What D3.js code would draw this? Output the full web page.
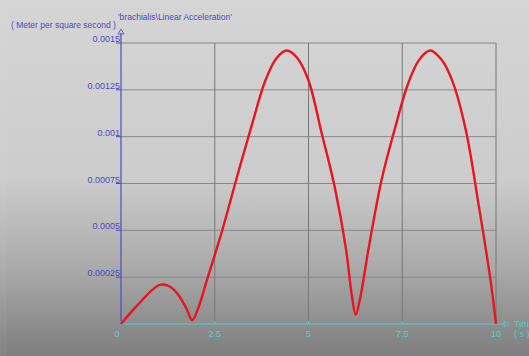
<!DOCTYPE html>
<html>
<head>
<meta charset="utf-8">
<script src="https://cdn.jsdelivr.net/npm/d3@7"></script>
<style>
  body { margin: 0; overflow: hidden; }
  svg { display: block; font-family: "Liberation Sans", Arial, sans-serif; }
</style>
</head>
<body>
<div id="chart"></div>
<script>
// time (s) and linear acceleration magnitude
var times = [0, 0.3, 0.6, 0.85, 1.06, 1.3, 1.55, 1.75, 1.9, 2.05, 2.3, 2.7, 3.1, 3.5, 3.85, 4.15, 4.42,
  4.7, 5.0, 5.35, 5.7, 6.0, 6.15, 6.26, 6.38, 6.6, 6.95, 7.3, 7.65, 7.95, 8.24, 8.55, 8.85, 9.2, 9.55, 9.85, 10];
var accel = [0, 0.00007, 0.000135, 0.000185, 0.00021, 0.0002, 0.00015, 0.00008, 0.00002, 0.00008, 0.00024, 0.0005, 0.00079, 0.00107, 0.0013, 0.00142, 0.00146,
  0.00142, 0.0013, 0.00102, 0.00073, 0.0004, 0.00016, 0.00005, 0.00014, 0.0004, 0.00077, 0.00104, 0.00128, 0.00141, 0.00146, 0.00141, 0.00129, 0.00103, 0.00062, 0.00024, 0];
var xTicks = [0, 2.5, 5, 7.5, 10];
var xTickLabels = ["0", "2.5", "5", "7.5", "10"];
var yTicks = [0.00025, 0.0005, 0.00075, 0.001, 0.00125, 0.0015];
var yTickLabels = ["0.00025", "0.0005", "0.00075", "0.001", "0.00125", "0.0015"];

var data = times.map((t, i) => ({ x: t, y: accel[i] }));

var W = 529, H = 356;
var margin = { top: 43, right: 33, bottom: 32, left: 121 };
var width = W - margin.left - margin.right;
var height = H - margin.top - margin.bottom;

var blue = "#4a4ac8";
var cyan = "#55cccc";

var svg = d3.select("#chart").append("svg")
  .attr("width", W)
  .attr("height", H);

// gray background that darkens toward the bottom
var grad = svg.append("defs").append("linearGradient")
  .attr("id", "bg").attr("x1", 0).attr("y1", 0).attr("x2", 0).attr("y2", 1);
grad.append("stop").attr("offset", "0%").attr("stop-color", "#d5d5d5");
grad.append("stop").attr("offset", "50%").attr("stop-color", "#cccccc");
grad.append("stop").attr("offset", "75%").attr("stop-color", "#aaaaaa");
grad.append("stop").attr("offset", "100%").attr("stop-color", "#7e7e7e");
svg.append("rect").attr("width", W).attr("height", H).attr("fill", "url(#bg)");
svg.append("rect").attr("x", 0).attr("y", 0).attr("width", 7).attr("height", H)
  .attr("fill", "#ffffff").attr("opacity", 0.04);

var xScale = d3.scaleLinear().domain([0, 10]).range([0, width]);
var yScale = d3.scaleLinear().domain([0, 0.0015]).range([height, 0]);

var g = svg.append("g")
  .attr("transform", "translate(" + margin.left + "," + margin.top + ")");

// grid
g.append("g").selectAll("line").data(yTicks).join("line")
  .attr("x1", 0).attr("x2", width)
  .attr("y1", d => yScale(d)).attr("y2", d => yScale(d))
  .attr("stroke", "#8a8a8a").attr("stroke-width", 1);
g.append("g").selectAll("line").data(xTicks.slice(1)).join("line")
  .attr("x1", d => xScale(d)).attr("x2", d => xScale(d))
  .attr("y1", 0).attr("y2", height)
  .attr("stroke", "#777777").attr("stroke-width", 1);

// y axis
g.append("line").attr("x1", 0).attr("x2", 0).attr("y1", -10).attr("y2", height)
  .attr("stroke", blue).attr("stroke-width", 1.2);
g.append("path").attr("d", "M-3,-9L0,-14L3,-9Z")
  .attr("fill", "none").attr("stroke", blue).attr("stroke-width", 0.8);
g.append("g").selectAll("line").data(yTicks).join("line")
  .attr("x1", -5).attr("x2", 0)
  .attr("y1", d => yScale(d)).attr("y2", d => yScale(d))
  .attr("stroke", blue);
g.append("g").selectAll("text").data(yTicks).join("text")
  .attr("x", -1).attr("y", d => yScale(d) - 1)
  .attr("text-anchor", "end")
  .attr("font-size", 9).attr("fill", blue)
  .text((d, i) => yTickLabels[i]);

// x axis
g.append("line").attr("x1", 0).attr("x2", width + 10).attr("y1", height).attr("y2", height)
  .attr("stroke", cyan).attr("stroke-width", 1.2);
g.append("path").attr("d", "M" + (width + 8) + "," + (height - 3) + "L" + (width + 13) + "," + height + "L" + (width + 8) + "," + (height + 3) + "Z")
  .attr("fill", "none").attr("stroke", cyan).attr("stroke-width", 0.8);
g.append("g").selectAll("line").data(xTicks).join("line")
  .attr("x1", d => xScale(d)).attr("x2", d => xScale(d))
  .attr("y1", height - 3).attr("y2", height)
  .attr("stroke", cyan);
g.append("g").selectAll("text").data(xTicks).join("text")
  .attr("x", (d, i) => xScale(d) - (i === 0 ? 4 : 0)).attr("y", height + 13)
  .attr("text-anchor", "middle")
  .attr("font-size", 9).attr("fill", cyan)
  .text((d, i) => xTickLabels[i]);
g.append("text").attr("x", width + 18).attr("y", height + 3)
  .attr("font-size", 9).attr("fill", cyan).text("Time");
g.append("text").attr("x", width + 18).attr("y", height + 13)
  .attr("font-size", 9).attr("fill", cyan).attr("xml:space", "preserve").text("( s )");

// titles
svg.append("text").attr("x", 118).attr("y", 20)
  .attr("font-size", 8.5).attr("fill", blue)
  .text("'brachialis\\Linear Acceleration'");
svg.append("text").attr("x", 11).attr("y", 28)
  .attr("font-size", 8.5).attr("fill", blue)
  .text("( Meter per square second )");

// curve
var line = d3.line()
  .x(d => xScale(d.x))
  .y(d => yScale(d.y))
  .curve(d3.curveCatmullRom.alpha(0.5));
g.append("path").datum(data)
  .attr("fill", "none")
  .attr("stroke", "#e8141e")
  .attr("stroke-width", 2.4)
  .attr("stroke-linejoin", "round")
  .attr("d", line);
</script>
</body>
</html>
